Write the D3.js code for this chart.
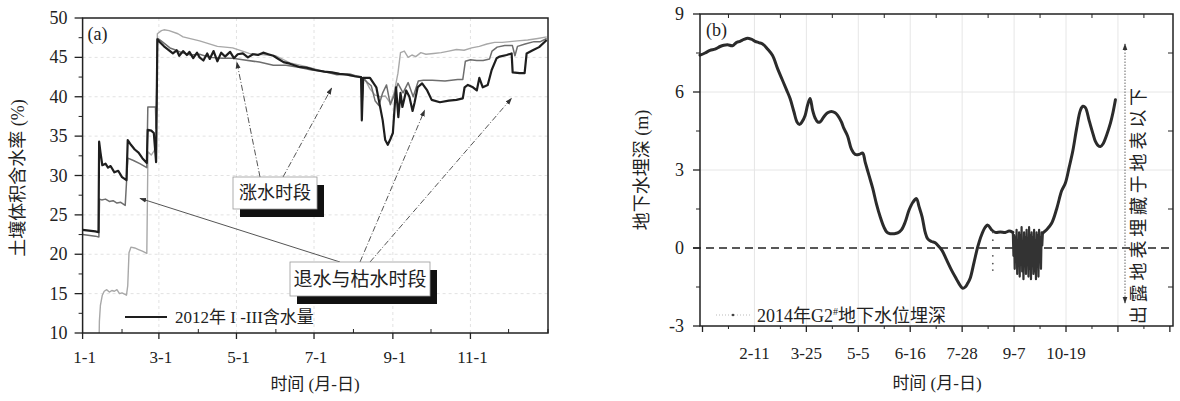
<!DOCTYPE html>
<html><head><meta charset="utf-8">
<script src="https://cdn.jsdelivr.net/npm/d3@7"></script>
<style>
body{margin:0;background:#fff}
svg{display:block}
text{font-family:"Liberation Serif","Noto Sans CJK SC",serif;fill:#222}
</style>
</head><body>
<svg id="c" width="1180" height="401"></svg>
<script>
// ---------- Panel (a) data: 2012 soil volumetric water content (%), x = day of year ----------
const aMajorTicks = [0, 60, 121, 182, 244, 305];
const aMajorLabels = ["1-1", "3-1", "5-1", "7-1", "9-1", "11-1"];
const aMinorTicks = [31, 91, 152, 213, 274, 335, 366];
const aYTicks = [10, 15, 20, 25, 30, 35, 40, 45, 50];
const aYMinor = [12.5, 17.5, 22.5, 27.5, 32.5, 37.5, 42.5, 47.5];

const seriesI = [[0,23.1],[10,22.9],[12.5,22.8],[13,34.3],[14,33],[15.5,31.3],[18,31.5],[20,31.0],[22,31.2],[25,30.4],[28,30.6],[31,29.8],[34.5,29.4],[35.5,34.5],[38,33.9],[41,33.3],[44,32.9],[47,32.2],[50.5,31.6],[51.2,35.8],[54,35.7],[56,35.4],[57.8,31.7],[58.8,47.3],[61,46.9],[64,46.4],[68,45.9],[71,45.5],[74,45.9],[76,45.2],[79,45.8],[82,45.3],[84,45.7],[87,44.9],[90,45.6],[92,45.0],[95,44.6],[98,45.5],[100,44.8],[103,45.8],[106,44.5],[109,45.6],[112,45.1],[116,45.7],[119,44.9],[122,45.4],[126,45.5],[130,45.0],[134,45.4],[138,45.3],[142,45.6],[146,45.4],[150,45.2],[154,44.8],[158,44.4],[163,44.2],[170,43.8],[176,43.7],[183,43.4],[190,43.2],[196,43.1],[202,42.9],[208,42.8],[214,42.6],[219,42.5],[219.6,37.0],[220.6,42.4],[226,42.4],[231,41.2],[236,37],[238,34.5],[240,33.9],[242,34.6],[244,35.4],[246.5,41.2],[248.3,37.4],[250,40.5],[251.5,38.7],[254.5,40.8],[257,40],[259.5,38.2],[261,39.2],[263.5,41.2],[267,41.7],[271,40.8],[274.5,39.6],[281,39.3],[288,39.5],[294,39.6],[299,39.8],[300.4,41.2],[303,41.5],[307,41.2],[310,40.8],[312,42.4],[314.7,41.2],[318.6,41.5],[321.7,43.4],[325.6,44.9],[328,45.1],[333.5,45.3],[337.4,45.5],[338.2,43.1],[343.7,43.0],[347.6,43.0],[349.2,45.5],[354,45.9],[359,46.3],[365,47.2]];

const seriesII = [[0,22.5],[10,22.3],[12.8,22.2],[13.3,27],[15,26.9],[18,27],[21,26.7],[24,26.8],[27,26.5],[30,26.6],[33.5,26.2],[35.6,32.2],[40,31.9],[45,31.5],[50.5,31.0],[51.3,38.7],[54,38.7],[57.3,38.7],[57.8,36],[58.9,47.4],[61,47.2],[64,46.8],[68.7,46.2],[72,46.0],[78,45.6],[85,45.3],[92,45.4],[100,45.0],[110,44.9],[118,44.9],[126,44.7],[139,44.4],[150,44.0],[160,44.0],[171,43.7],[180,43.4],[190,43.2],[200,42.8],[210,42.9],[216,42.6],[219,42.5],[219.8,39],[221,42.3],[224,41.8],[227,41.4],[230,39.5],[233,38.9],[236,40.5],[239,41.5],[242,39],[245,40.2],[248,41.7],[252,40.5],[256,41.8],[260,40],[264,42],[268,42.1],[275,42.1],[285,42.0],[295,42.2],[299,42.2],[301,44.5],[305,44.7],[310,44.6],[315,44.6],[320,44.8],[322,45.8],[326,46.3],[332,46.5],[338,46.5],[340,45.2],[342,46.4],[348,46.7],[355,47.0],[360,47.0],[365,47.4]];

const seriesIII = [[12.6,5],[13.2,11.5],[14,13.5],[15.5,14.8],[17,15.3],[19,15.5],[21,15.2],[23,15.4],[25,15.3],[27,15.5],[29,15.0],[31,15.1],[34.5,14.8],[35.5,16],[36.5,20.2],[38,20.9],[41,20.8],[44,20.6],[47,20.4],[50.5,20.1],[51.4,33],[54,32.6],[56.5,33.2],[58,35],[58.8,48.0],[62,48.4],[64,48.5],[68,48.4],[75,48.0],[79,47.6],[92,47.1],[106,46.4],[118,46.2],[131,45.5],[145,45.3],[152,45.2],[163,44.3],[171,44.0],[179,43.7],[190,43.2],[200,43.0],[210,42.7],[216,42.5],[219,42.4],[222,42.2],[226,41.0],[230,40.2],[234,40.0],[238,40.1],[242,39.2],[245,40.5],[248,43],[250,45.6],[253,45.8],[256,45.0],[259,45.3],[262,45.1],[266,45.6],[270,45.4],[276,45.5],[282,45.6],[288,45.8],[294,46.0],[300,45.9],[306,46.2],[312,46.4],[318,46.7],[324,46.9],[330,46.9],[336,47.0],[342,47.1],[350,47.2],[358,47.4],[365,47.6]];

// annotation arrow tips (day, %)
const riseTips = [[121.3,44.4],[195.8,41.1]];
const fallTips = [[45.1,27.1],[269,38.3],[337.3,39.8]];

// ---------- Panel (b) data: 2014 G2# groundwater depth (m), x = day of year ----------
const bMajorTicks = [0, 41.5, 83, 124.5, 166, 207.5, 249, 290.5, 332, 373.5];
const bMajorLabels = ["", "2-11", "3-25", "5-5", "6-16", "7-28", "9-7", "10-19", "", ""];
const bYTicks = [-3, 0, 3, 6, 9];
const bYMinor = [-1.5, 1.5, 4.5, 7.5];

const depthA = [[-2,7.42],[2,7.5],[6,7.6],[10,7.65],[14,7.75],[17,7.8],[20,7.82],[24,7.78],[27,7.9],[30,7.95],[33,8.02],[36,8.07],[39,8.03],[42,7.95],[45,7.9],[48,7.85],[52,7.65],[56,7.4],[60,6.9],[63.5,6.5],[67,6.1],[70,5.75],[73,5.25],[75.5,4.85],[77.5,4.75],[79.5,4.85],[82,5.1],[84,5.5],[86,5.75],[88,5.3],[90,5.0],[92,4.85],[94,4.85],[97,5.05],[100,5.2],[103,5.25],[106,5.2],[108,5.1],[111,4.85],[113,4.6],[116,4.3],[119,3.8],[122,3.6],[125,3.6],[128,3.65],[130,3.3],[133,2.8],[136,2.3],[139,1.7],[142,1.2],[145,0.8],[147.5,0.6],[150,0.55],[153,0.55],[156,0.58],[159,0.7],[162,1.0],[165,1.45],[168,1.75],[171,1.9],[173,1.6],[175.5,1.2],[178,0.6],[180,0.35],[183,0.25],[186,0.2],[189,0.05],[191.5,-0.1],[195,-0.45],[199,-0.85],[203,-1.2],[206,-1.45],[208,-1.55],[210,-1.5],[212,-1.35],[214,-1.15],[217,-0.55],[220,0.05],[223,0.5],[226,0.8],[228,0.88],[231,0.7],[234,0.6],[238,0.62],[242,0.6],[245,0.65],[248,0.6]];
const depthB = [[272,0.58],[275,0.7],[279,0.95],[283,1.5],[287,2.2],[290,2.5],[293,3.1],[296,3.75],[299,4.6],[302,5.3],[304,5.45],[306,5.4],[309,4.9],[312,4.4],[314,4.1],[316,3.95],[318,3.9],[320,4.0],[323,4.35],[326,4.8],[328,5.2],[330,5.7]];
const depthCluster = [[248,0.6],[248.5,-0.3],[249,0.5],[249.5,-0.8],[250,0.4],[250.5,-0.5],[251,0.7],[251.5,-1.0],[252,0.3],[252.5,-0.6],[253,0.6],[253.5,-1.1],[254,0.5],[254.5,-0.4],[255,0.8],[255.5,-0.9],[256,0.2],[256.5,-1.2],[257,0.6],[257.5,-0.7],[258,0.4],[258.5,-1.0],[259,0.7],[259.5,-0.5],[260,0.3],[260.5,-1.1],[261,0.8],[261.5,-0.8],[262,0.5],[262.5,-1.2],[263,0.6],[263.5,-0.6],[264,0.4],[264.5,-1.0],[265,0.7],[265.5,-0.9],[266,0.3],[266.5,-1.2],[267,0.6],[267.5,-0.7],[268,0.5],[268.5,-1.1],[269,0.7],[269.5,-0.4],[270,0.4],[270.5,-0.8],[271,0.6],[271.5,0.1],[272,0.58]];
const depthSparse = [[232,0.6],[232,0.3],[232,0.0],[232,-0.3],[232,-0.6],[232,-0.85]];

// ---------- drawing ----------
const svg = d3.select("#c");
svg.append("rect").attr("width",1180).attr("height",401).attr("fill","#fff");
const defs = svg.append("defs");
defs.append("marker").attr("id","ah").attr("viewBox","0 0 10 10").attr("refX",9).attr("refY",5)
  .attr("markerWidth",7).attr("markerHeight",7).attr("orient","auto-start-reverse")
  .append("path").attr("d","M0,1.5L10,5L0,8.5Z").attr("fill","#333");

// ===== Panel (a) =====
const xa = d3.scaleLinear().domain([0,366]).range([82.6,548]);
const ya = d3.scaleLinear().domain([10,50]).range([333,18]);
const ga = svg.append("g");
defs.append("clipPath").attr("id","clipA").append("rect")
  .attr("x",xa(0)).attr("y",ya(50)).attr("width",xa(366)-xa(0)).attr("height",ya(10)-ya(50));

ga.selectAll(".gy").data(aYTicks.slice(1,-1)).join("line")
  .attr("x1",xa(0)).attr("x2",xa(366)).attr("y1",d=>ya(d)).attr("y2",d=>ya(d))
  .attr("stroke","#e2e2e2").attr("stroke-dasharray","3,3");
ga.selectAll(".gx").data(aMajorTicks.slice(1)).join("line")
  .attr("x1",d=>xa(d)).attr("x2",d=>xa(d)).attr("y1",ya(10)).attr("y2",ya(50))
  .attr("stroke","#e2e2e2").attr("stroke-dasharray","3,3");

const lineA = d3.line().x(d=>xa(d[0])).y(d=>ya(d[1]));
const plotA = ga.append("g").attr("clip-path","url(#clipA)");
plotA.append("path").datum(seriesIII).attr("d",lineA).attr("fill","none").attr("stroke","#a8a8a8").attr("stroke-width",1.4).attr("stroke-linejoin","round");
plotA.append("path").datum(seriesII).attr("d",lineA).attr("fill","none").attr("stroke","#6e6e6e").attr("stroke-width",1.5).attr("stroke-linejoin","round");
plotA.append("path").datum(seriesI).attr("d",lineA).attr("fill","none").attr("stroke","#1e1e1e").attr("stroke-width",2.2).attr("stroke-linejoin","round");

ga.append("rect").attr("x",xa(0)).attr("y",ya(50)).attr("width",xa(366)-xa(0)).attr("height",ya(10)-ya(50))
  .attr("fill","none").attr("stroke","#222").attr("stroke-width",1.5);
ga.selectAll(".yt").data(aYTicks).join("line").attr("x1",xa(0)-8).attr("x2",xa(0)).attr("y1",d=>ya(d)).attr("y2",d=>ya(d)).attr("stroke","#222").attr("stroke-width",1.3);
ga.selectAll(".ym").data(aYMinor).join("line").attr("x1",xa(0)-4).attr("x2",xa(0)).attr("y1",d=>ya(d)).attr("y2",d=>ya(d)).attr("stroke","#222");
ga.selectAll(".yl").data(aYTicks).join("text").attr("x",xa(0)-15).attr("y",d=>ya(d)+6).attr("text-anchor","end").attr("font-size",18).text(d=>d);
ga.selectAll(".xt").data(aMajorTicks).join("line").attr("x1",d=>xa(d)).attr("x2",d=>xa(d)).attr("y1",ya(10)).attr("y2",ya(10)+6).attr("stroke","#222").attr("stroke-width",1.3);
ga.selectAll(".xm").data(aMinorTicks).join("line").attr("x1",d=>xa(d)).attr("x2",d=>xa(d)).attr("y1",ya(10)-4).attr("y2",ya(10)).attr("stroke","#222");
ga.selectAll(".xl").data(aMajorTicks).join("text").attr("x",d=>xa(d)+2).attr("y",ya(10)+30).attr("text-anchor","middle").attr("font-size",17).text((d,i)=>aMajorLabels[i]);
ga.append("text").attr("x",315).attr("y",390).attr("text-anchor","middle").attr("font-size",17).text("时间 (月-日)");
ga.append("text").attr("transform","translate(24,178) rotate(-90)").attr("text-anchor","middle").attr("font-size",18).text("土壤体积含水率 (%)");
ga.append("text").attr("x",xa(0)+5).attr("y",ya(50)+22).attr("font-size",18).text("(a)");
ga.append("line").attr("x1",125).attr("x2",167).attr("y1",317).attr("y2",317).attr("stroke","#1e1e1e").attr("stroke-width",2);
ga.append("text").attr("x",175).attr("y",323).attr("font-size",17).text("2012年 I -III含水量");

function box(g,x,y,w,h,label,fs){
  g.append("rect").attr("x",x+7).attr("y",y+8).attr("width",w).attr("height",h).attr("fill","#111");
  g.append("rect").attr("x",x).attr("y",y).attr("width",w).attr("height",h).attr("fill","#fff").attr("stroke","#999").attr("stroke-width",0.8);
  g.append("text").attr("x",x+w/2).attr("y",y+h/2+fs*0.36).attr("text-anchor","middle").attr("font-size",fs).text(label);
}
const ann = ga.append("g");
const riseFrom = [[260,177],[283,177]];
ann.selectAll(".ra").data(riseTips).join("line")
  .attr("x1",(d,i)=>riseFrom[i][0]).attr("y1",(d,i)=>riseFrom[i][1])
  .attr("x2",d=>xa(d[0])).attr("y2",d=>ya(d[1]))
  .attr("stroke","#555").attr("stroke-width",1).attr("stroke-dasharray","6,2,1,2").attr("marker-end","url(#ah)");
const fallFrom = [[340,262],[360,262],[370,262]];
ann.selectAll(".fa").data(fallTips).join("line")
  .attr("x1",(d,i)=>fallFrom[i][0]).attr("y1",(d,i)=>fallFrom[i][1])
  .attr("x2",d=>xa(d[0])).attr("y2",d=>ya(d[1]))
  .attr("stroke","#555").attr("stroke-width",1).attr("stroke-dasharray",(d,i)=>i===0?null:"6,2,1,2").attr("marker-end","url(#ah)");
box(ann,233,177,84,32,"涨水时段",18);
box(ann,290,262,140,34,"退水与枯水时段",19);

// ===== Panel (b) =====
const xb = d3.scaleLinear().domain([-2,376]).range([700,1173]);
const yb = d3.scaleLinear().domain([-3,9]).range([326,14]);
const gb = svg.append("g");
const bMinor = bMajorTicks.slice(0,-1).map((d,i)=>(d+bMajorTicks[i+1])/2);

gb.selectAll(".gx").data(bMajorTicks.slice(1,-1)).join("line")
  .attr("x1",d=>xb(d)).attr("x2",d=>xb(d)).attr("y1",yb(-3)).attr("y2",yb(9)).attr("stroke","#e6e6e6");
gb.selectAll(".gy").data([3,6]).join("line")
  .attr("x1",xb(-2)).attr("x2",xb(376)).attr("y1",d=>yb(d)).attr("y2",d=>yb(d)).attr("stroke","#e6e6e6");

gb.append("line").attr("x1",xb(-2)-7).attr("x2",xb(376)).attr("y1",yb(0)).attr("y2",yb(0))
  .attr("stroke","#222").attr("stroke-width",1.6).attr("stroke-dasharray","8,5");

const lineB = d3.line().x(d=>xb(d[0])).y(d=>yb(d[1])).curve(d3.curveCatmullRom);
gb.append("path").datum(depthCluster).attr("d",d3.line().x(d=>xb(d[0])).y(d=>yb(d[1])))
  .attr("fill","none").attr("stroke","#333").attr("stroke-width",2.2).attr("stroke-linejoin","round");
[depthA, depthB].forEach(s=>{
  gb.append("path").datum(s).attr("d",lineB).attr("fill","none").attr("stroke","#2b2b2b")
    .attr("stroke-width",3).attr("stroke-linejoin","round").attr("stroke-linecap","round");
});
gb.selectAll(".sp").data(depthSparse).join("circle").attr("cx",d=>xb(d[0])).attr("cy",d=>yb(d[1])).attr("r",0.9).attr("fill","#555");

gb.append("rect").attr("x",xb(-2)).attr("y",yb(9)).attr("width",xb(376)-xb(-2)).attr("height",yb(-3)-yb(9))
  .attr("fill","none").attr("stroke","#222").attr("stroke-width",1.5);
gb.selectAll(".yt").data(bYTicks).join("line").attr("x1",xb(-2)-7).attr("x2",xb(-2)).attr("y1",d=>yb(d)).attr("y2",d=>yb(d)).attr("stroke","#222").attr("stroke-width",1.3);
gb.selectAll(".ym").data(bYMinor).join("line").attr("x1",xb(-2)-4).attr("x2",xb(-2)).attr("y1",d=>yb(d)).attr("y2",d=>yb(d)).attr("stroke","#222");
gb.selectAll(".yr").data(bYMinor).join("line").attr("x1",xb(376)-5).attr("x2",xb(376)).attr("y1",d=>yb(d)).attr("y2",d=>yb(d)).attr("stroke","#222");
gb.selectAll(".yl").data(bYTicks).join("text").attr("x",xb(-2)-16).attr("y",d=>yb(d)+6).attr("text-anchor","end").attr("font-size",18).text(d=>d);
gb.selectAll(".xt").data(bMajorTicks).join("line").attr("x1",d=>xb(d)).attr("x2",d=>xb(d)).attr("y1",yb(-3)).attr("y2",yb(-3)+6).attr("stroke","#222").attr("stroke-width",1.3);
gb.selectAll(".xm").data(bMinor).join("line").attr("x1",d=>xb(d)).attr("x2",d=>xb(d)).attr("y1",yb(-3)).attr("y2",yb(-3)+3).attr("stroke","#222");
gb.selectAll(".xtop").data(bMinor).join("line").attr("x1",d=>xb(d)).attr("x2",d=>xb(d)).attr("y1",yb(9)).attr("y2",yb(9)+4).attr("stroke","#222");
gb.selectAll(".xl").data(bMajorTicks).join("text").attr("x",d=>xb(d)).attr("y",yb(-3)+33).attr("text-anchor","middle").attr("font-size",17).text((d,i)=>bMajorLabels[i]);
gb.append("text").attr("x",937).attr("y",389).attr("text-anchor","middle").attr("font-size",17).text("时间 (月-日)");
gb.append("text").attr("transform","translate(648,170) rotate(-90)").attr("text-anchor","middle").attr("font-size",18).text("地下水埋深 (m)");
gb.append("text").attr("x",xb(-2)+6).attr("y",yb(9)+22).attr("font-size",18).text("(b)");
gb.append("line").attr("x1",716).attr("x2",750).attr("y1",315).attr("y2",315).attr("stroke","#bbb").attr("stroke-dasharray","1,2");
gb.append("circle").attr("cx",733).attr("cy",315).attr("r",1.3).attr("fill","#444");
const lt = gb.append("text").attr("x",757).attr("y",322).attr("font-size",18);
lt.append("tspan").text("2014年G2");
lt.append("tspan").attr("font-size",10).attr("dy",-7).text("#");
lt.append("tspan").attr("dy",7).text("地下水位埋深");
gb.append("line").attr("x1",1125).attr("x2",1125).attr("y1",303).attr("y2",44)
  .attr("stroke","#666").attr("stroke-width",1).attr("stroke-dasharray","1.5,1.5")
  .attr("marker-end","url(#ah)").attr("marker-start","url(#ah)");
gb.append("text").attr("transform","translate(1145,206) rotate(-90)").attr("text-anchor","middle")
  .attr("font-size",18).attr("textLength",236).attr("lengthAdjust","spacing").text("出露地表埋藏于地表以下");
</script>
</body></html>
